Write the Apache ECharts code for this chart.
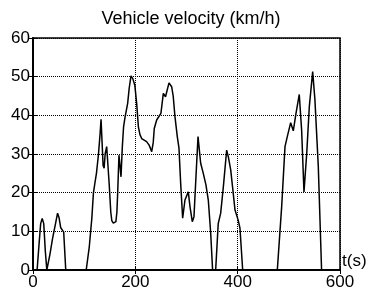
<!DOCTYPE html>
<html>
<head>
<meta charset="utf-8">
<script src="https://cdn.jsdelivr.net/npm/echarts@6/dist/echarts.min.js"></script>
<style>
html,body{margin:0;padding:0;background:#fff;}
#c{width:368px;height:288px;}
</style>
</head>
<body>
<div id="c"></div>
<script>
const titleText = 'Vehicle velocity (km/h)';
const xName = 't(s)';
const xTicks = [0, 200, 400, 600];
const yTicks = [0, 10, 20, 30, 40, 50, 60];
const timeS = [0, 8, 12, 15, 18, 21, 24, 27, 30, 33, 38, 44, 48, 51, 54, 57, 60, 64,
  104, 110, 115, 118, 121, 124, 128, 131, 133, 135, 137, 139, 141, 144, 146, 149, 152, 154, 157, 162, 164, 165.5, 168, 170, 172, 174.6, 177, 180, 185, 188, 191.5, 195, 199, 202.6, 205.9, 209, 212.4, 222, 227, 232, 235, 237, 241.7, 250, 254.7, 259, 265.8, 271, 274, 277.5, 282, 285.3, 288.6, 292.5, 297, 303.5, 306.8, 311.3, 314.6, 318.5, 322.5, 327.7, 332.8, 338, 342.6, 347.3, 351,
  357, 362, 366.8, 372, 378.5, 381.7, 386.4, 390, 394.8, 401, 404.5, 409.8,
  477.5, 486, 492.5, 497, 503.6, 508.7, 514, 520.4, 525, 529.6, 535, 540, 546.6, 551, 557.6, 564, 600];
const speedKmh = [0, 0, 7, 12, 13.3, 12, 5, 0, 0, 4, 8, 12, 14.7, 13.5, 11, 10.5, 9.8, 0,
  0, 6, 13.4, 19.8, 22.5, 25, 30, 35, 39, 33, 27, 26.3, 30, 31.9, 28, 22, 15, 12.8, 12.1, 12.5, 15, 20, 29.7, 27, 24.1, 31.9, 37, 39.6, 43.1, 47, 50.2, 49.5, 47.8, 43.1, 37.1, 35, 34, 33.2, 32.3, 30.6, 33, 36.6, 38.8, 40.5, 45.7, 44.8, 48.4, 47.4, 45, 39.6, 34.5, 31.5, 22.4, 13.4, 18.1, 20.2, 16.4, 12.5, 13.8, 24.1, 34.5, 27.6, 25, 22, 18.1, 9.5, 0,
  0, 12, 14.7, 21.5, 31, 29.3, 25.9, 21.5, 15.5, 12.9, 10.8, 0,
  0, 16.4, 31.9, 34.5, 38.1, 36, 40.5, 45.4, 36.2, 20.2, 30.2, 42.2, 51.3, 44, 26.7, 0, 0];

const font = 'Liberation Sans, Arial, sans-serif';
const chart = echarts.init(document.getElementById('c'), null, {renderer: 'canvas'});
const pts = timeS.map((t, i) => [t, speedKmh[i]]);
const fs = 17;
chart.setOption({
  animation: false,
  backgroundColor: '#fff',
  title: {
    text: titleText, left: 186, top: 5, textAlign: 'center',
    textStyle: {fontFamily: font, fontSize: 18, fontWeight: 'normal', color: '#000'}
  },
  grid: {left: 33, right: 28, top: 38, bottom: 18, show: true, borderColor: '#000', borderWidth: 1.5, backgroundColor: 'transparent', containLabel: false, outerBoundsMode: 'none'},
  xAxis: [{
    type: 'value', min: xTicks[0], max: xTicks[xTicks.length - 1], interval: 200,
    name: xName, nameLocation: 'end', nameGap: 2,
    nameTextStyle: {fontFamily: font, fontSize: fs, color: '#000', align: 'left', verticalAlign: 'bottom'},
    axisLine: {show: true, lineStyle: {color: '#000', width: 2}},
    axisTick: {show: true, inside: true, length: 4, lineStyle: {color: '#000'}},
    axisLabel: {fontFamily: font, fontSize: fs, color: '#000', margin: 4},
    splitLine: {show: true, lineStyle: {color: '#000', type: [1, 1], width: 1}}
  }, {
    type: 'value', position: 'top', min: 0, max: 600, interval: 200,
    axisLine: {show: false}, axisLabel: {show: false}, splitLine: {show: false},
    axisTick: {show: true, inside: true, length: 4, lineStyle: {color: '#000'}}
  }],
  yAxis: [{
    type: 'value', min: yTicks[0], max: yTicks[yTicks.length - 1], interval: 10,
    axisLine: {show: true, lineStyle: {color: '#000', width: 2}},
    axisTick: {show: true, inside: true, length: 4, lineStyle: {color: '#000'}},
    axisLabel: {fontFamily: font, fontSize: fs, color: '#000', margin: 3},
    splitLine: {show: true, lineStyle: {color: '#000', type: [1, 1], width: 1}}
  }, {
    type: 'value', position: 'right', min: 0, max: 60, interval: 10,
    axisLine: {show: false}, axisLabel: {show: false}, splitLine: {show: false},
    axisTick: {show: true, inside: true, length: 4, lineStyle: {color: '#000'}}
  }],
  series: [{
    type: 'line', data: pts, showSymbol: false, symbol: 'none',
    lineStyle: {color: '#000', width: 1.5}, clip: true
  }]
});
</script>
</body>
</html>
